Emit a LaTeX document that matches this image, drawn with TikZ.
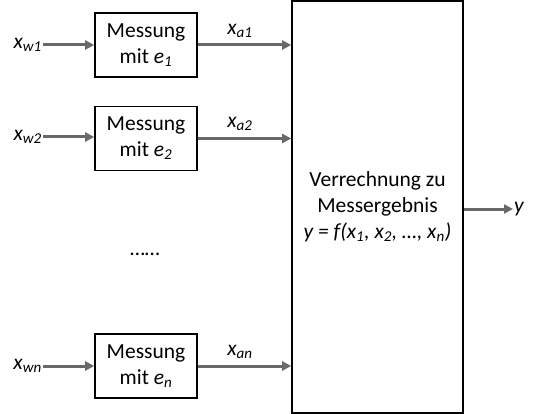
\documentclass[tikz,border=0pt]{standalone}
\usepackage{fontspec}
\setmainfont{Carlito}
\usetikzlibrary{arrows.meta}
\begin{document}
\begin{tikzpicture}[x=1pt,y=-1pt,
  font=\fontsize{21.5}{26}\selectfont,
  mbox/.style={draw=black,line width=1.6pt,minimum width=102pt,minimum height=64pt,align=center,inner sep=0pt},
  bigbox/.style={draw=black,line width=1.6pt,minimum width=171pt,minimum height=412pt,align=center,inner sep=0pt},
  arr/.style={draw={rgb,255:red,105;green,105;blue,105},line width=3pt,-{Triangle[length=9pt,width=9pt]}},
  lbl/.style={inner sep=1pt}]
\useasboundingbox (0,0) rectangle (540,414);
\node[mbox] (b1) at (146,45) {Messung\\mit \textit{e\textsubscript{1}}};
\node[mbox] (b2) at (146,138.5) {Messung\\mit \textit{e\textsubscript{2}}};
\node[mbox] (bn) at (146,366) {Messung\\mit \textit{e\textsubscript{n}}};
\node[bigbox] (big) at (377.5,207) {Verrechnung zu\\Messergebnis\\\textit{y = f(x\textsubscript{1}, x\textsubscript{2}, …, x\textsubscript{n})}};
\node[lbl,anchor=east] (w1) at (43,45) {\textit{x\textsubscript{w1}}};
\node[lbl,anchor=east] (w2) at (43,137) {\textit{x\textsubscript{w2}}};
\node[lbl,anchor=east] (wn) at (43,366) {\textit{x\textsubscript{wn}}};
\node[lbl] (a1) at (240,31) {\textit{x\textsubscript{a1}}};
\node[lbl] (a2) at (240,124) {\textit{x\textsubscript{a2}}};
\node[lbl] (an) at (240,352) {\textit{x\textsubscript{an}}};
\node[lbl,anchor=west] (y) at (513,209) {\textit{y}};
\node (dots) at (145,254) {……};
\coordinate (c1) at (big.west |- b1.east);
\coordinate (c2) at (big.west |- b2.east);
\coordinate (cn) at (big.west |- bn.east);
\coordinate (cy) at (big.east |- y.west);
\draw[arr] (w1.east) -- (b1.west);
\draw[arr] (w2.east) -- (b2.west |- w2.east);
\draw[arr] (wn.east) -- (bn.west);
\draw[arr] (b1.east) -- (c1);
\draw[arr] (b2.east) -- (c2);
\draw[arr] (bn.east) -- (cn);
\draw[arr] (cy) -- (y.west);
\end{tikzpicture}
\end{document}
